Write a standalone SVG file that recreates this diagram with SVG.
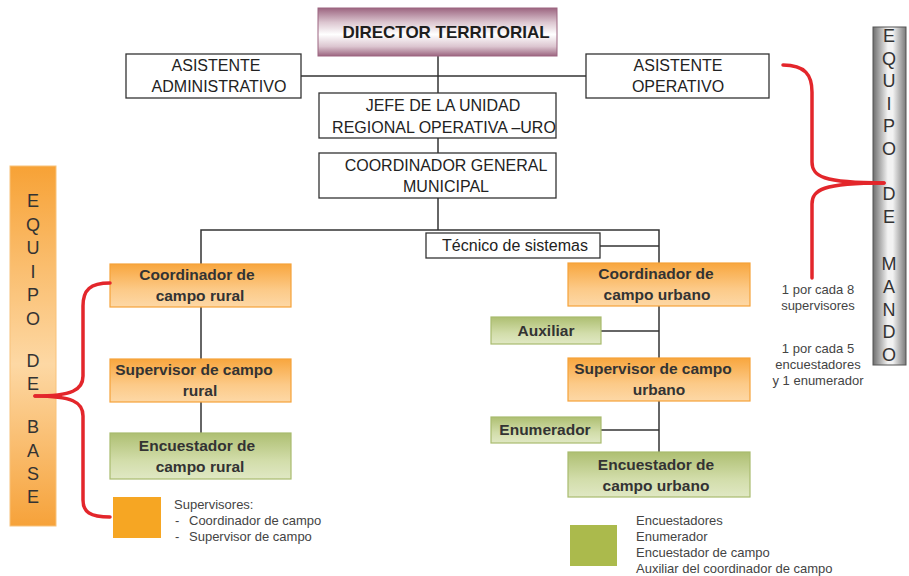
<svg xmlns="http://www.w3.org/2000/svg" width="909" height="576" viewBox="0 0 909 576">
<defs>
<linearGradient id="gDir" x1="0" y1="0" x2="0" y2="1">
<stop offset="0" stop-color="#9c6580"/><stop offset="0.3" stop-color="#dcc6d0"/><stop offset="0.55" stop-color="#ffffff"/><stop offset="0.8" stop-color="#dcc6d0"/><stop offset="1" stop-color="#9c6580"/>
</linearGradient>
<linearGradient id="gOr" x1="0" y1="0" x2="0" y2="1">
<stop offset="0" stop-color="#f8a63e"/><stop offset="0.6" stop-color="#fcca88"/><stop offset="1" stop-color="#fdd8a6"/>
</linearGradient>
<linearGradient id="gGr" x1="0" y1="0" x2="0" y2="1">
<stop offset="0" stop-color="#aebf72"/><stop offset="0.6" stop-color="#d2ddaa"/><stop offset="1" stop-color="#e0e8c4"/>
</linearGradient>
<linearGradient id="gBarO" x1="0" y1="0" x2="0" y2="1">
<stop offset="0" stop-color="#f7a236"/><stop offset="0.55" stop-color="#fdd8a4"/><stop offset="1" stop-color="#f6a23a"/>
</linearGradient>
<linearGradient id="gBarG" x1="0" y1="0" x2="1" y2="0">
<stop offset="0" stop-color="#6e6e6e"/><stop offset="0.45" stop-color="#f2f2f2"/><stop offset="0.6" stop-color="#f2f2f2"/><stop offset="1" stop-color="#7a7a7a"/>
</linearGradient>
</defs>
<style>
.wb{fill:#fff;stroke:#333;stroke-width:1.3}
.ob{fill:url(#gOr);stroke:#f5a23a;stroke-width:1.2}
.gb{fill:url(#gGr);stroke:#a8bb6e;stroke-width:1.2}
.t{font-family:"Liberation Sans",Arial,sans-serif;font-size:16px;fill:#222;text-anchor:middle}
.tb{font-family:"Liberation Sans",Arial,sans-serif;font-size:15.5px;font-weight:bold;fill:#333;text-anchor:middle}
.side{font-family:"Liberation Sans",Arial,sans-serif;font-size:18px;fill:#333;text-anchor:middle}
.lg{font-family:"Liberation Sans",Arial,sans-serif;font-size:13px;fill:#444}
.note{font-family:"Liberation Sans",Arial,sans-serif;font-size:13px;fill:#444;text-anchor:middle}
.ln{stroke:#333;stroke-width:1.5;fill:none}
.br{stroke:#e3262b;stroke-width:3.5;fill:none;stroke-linecap:round}
</style>

<g id="connectors">
<line class="ln" x1="438" y1="56" x2="438" y2="93"/>
<line class="ln" x1="301" y1="76" x2="586" y2="76"/>
<line class="ln" x1="438" y1="138" x2="438" y2="153"/>
<line class="ln" x1="438" y1="198" x2="438" y2="230"/>
<polyline class="ln" points="201,264 201,230 659,230 659,263"/>
<line class="ln" x1="600" y1="246" x2="659" y2="246"/>
<line class="ln" x1="201" y1="307" x2="201" y2="359"/>
<line class="ln" x1="201" y1="402" x2="201" y2="433"/>
<line class="ln" x1="659" y1="306" x2="659" y2="452"/>
<line class="ln" x1="601" y1="331" x2="659" y2="331"/>
<line class="ln" x1="601" y1="430" x2="659" y2="430"/>
</g>

<g id="director">
<rect x="318" y="8" width="239" height="48" fill="url(#gDir)" stroke="#9c6580" stroke-width="1"/>
<text x="446" y="38" class="tb" style="font-size:17px;fill:#1e1e1e">DIRECTOR TERRITORIAL</text>
</g>
<g id="asistente-admin">
<rect class="wb" x="126" y="54" width="175" height="44"/>
<text class="t" x="216" y="71">ASISTENTE</text>
<text class="t" x="219" y="92">ADMINISTRATIVO</text>
</g>
<g id="asistente-oper">
<rect class="wb" x="586" y="54" width="183" height="44"/>
<text class="t" x="678" y="71">ASISTENTE</text>
<text class="t" x="678" y="92">OPERATIVO</text>
</g>
<g id="jefe">
<rect class="wb" x="319" y="93" width="237" height="45"/>
<text class="t" x="443" y="111">JEFE DE LA UNIDAD</text>
<text class="t" x="444" y="133">REGIONAL OPERATIVA –URO</text>
</g>
<g id="coord-general">
<rect class="wb" x="319" y="153" width="237" height="45"/>
<text class="t" x="446" y="171">COORDINADOR GENERAL</text>
<text class="t" x="446" y="192">MUNICIPAL</text>
</g>
<g id="tecnico">
<rect class="wb" x="426" y="233" width="174" height="25"/>
<text class="t" x="515" y="251">Técnico de sistemas</text>
</g>

<g id="coord-rural">
<rect class="ob" x="110" y="264" width="181" height="43"/>
<text class="tb" x="197" y="280">Coordinador de</text>
<text class="tb" x="200" y="301">campo rural</text>
</g>
<g id="sup-rural">
<rect class="ob" x="110" y="359" width="181" height="43"/>
<text class="tb" x="194" y="375">Supervisor de campo</text>
<text class="tb" x="200" y="396">rural</text>
</g>
<g id="enc-rural">
<rect class="gb" x="110" y="433" width="181" height="46"/>
<text class="tb" x="197" y="451">Encuestador de</text>
<text class="tb" x="200" y="472">campo rural</text>
</g>

<g id="coord-urbano">
<rect class="ob" x="568" y="263" width="182" height="43"/>
<text class="tb" x="656" y="279">Coordinador de</text>
<text class="tb" x="657" y="300">campo urbano</text>
</g>
<g id="auxiliar">
<rect class="gb" x="491" y="317" width="110" height="27"/>
<text class="tb" x="546" y="336">Auxiliar</text>
</g>
<g id="sup-urbano">
<rect class="ob" x="568" y="358" width="182" height="43"/>
<text class="tb" x="653" y="374">Supervisor de campo</text>
<text class="tb" x="659" y="395">urbano</text>
</g>
<g id="enumerador">
<rect class="gb" x="491" y="417" width="110" height="26"/>
<text class="tb" x="545" y="435">Enumerador</text>
</g>
<g id="enc-urbano">
<rect class="gb" x="568" y="452" width="182" height="45"/>
<text class="tb" x="656" y="470">Encuestador de</text>
<text class="tb" x="656" y="491">campo urbano</text>
</g>

<g id="equipo-base">
<rect x="10" y="166" width="46" height="360" fill="url(#gBarO)" stroke="#f8c27a" stroke-width="1"/>
<text class="side" x="33" y="207">E</text>
<text class="side" x="33" y="231">Q</text>
<text class="side" x="33" y="254">U</text>
<text class="side" x="33" y="278">I</text>
<text class="side" x="33" y="301">P</text>
<text class="side" x="33" y="325">O</text>
<text class="side" x="33" y="367">D</text>
<text class="side" x="33" y="390">E</text>
<text class="side" x="33" y="433">B</text>
<text class="side" x="33" y="457">A</text>
<text class="side" x="33" y="480">S</text>
<text class="side" x="33" y="503">E</text>
</g>

<g id="equipo-mando">
<rect x="873" y="27" width="33" height="338" fill="url(#gBarG)" stroke="#555" stroke-width="1"/>
<text class="side" x="889" y="42">E</text>
<text class="side" x="889" y="65">Q</text>
<text class="side" x="889" y="87">U</text>
<text class="side" x="889" y="110">I</text>
<text class="side" x="889" y="132">P</text>
<text class="side" x="889" y="155">O</text>
<text class="side" x="889" y="200">D</text>
<text class="side" x="889" y="223">E</text>
<text class="side" x="889" y="270">M</text>
<text class="side" x="889" y="293">A</text>
<text class="side" x="889" y="316">N</text>
<text class="side" x="889" y="338">D</text>
<text class="side" x="889" y="361">O</text>
</g>

<g id="braces">
<path class="br" d="M110,283 C90,283 83,290 83,306 L83,376 C83,390 72,396 35,396"/>
<path class="br" d="M35,396 C72,396 83,402 83,416 L83,500 C83,512 90,517 110,517"/>
<path class="br" d="M783,65 C805,65 812,75 812,92 L812,162 C812,176 822,183 884,183"/>
<path class="br" d="M884,183 C822,183 812,190 812,204 L812,278"/>
</g>

<g id="notes">
<text class="note" x="818" y="294">1 por cada 8</text>
<text class="note" x="818" y="310">supervisores</text>
<text class="note" x="818" y="353">1 por cada 5</text>
<text class="note" x="818" y="369">encuestadores</text>
<text class="note" x="818" y="385">y 1 enumerador</text>
</g>

<g id="legend-supervisores">
<rect x="113" y="497" width="48" height="41" fill="#f6a623"/>
<text class="lg" x="174" y="509">Supervisores:</text>
<text class="lg" x="175" y="525">-</text>
<text class="lg" x="189" y="525">Coordinador de campo</text>
<text class="lg" x="175" y="541">-</text>
<text class="lg" x="189" y="541">Supervisor de campo</text>
</g>
<g id="legend-encuestadores">
<rect x="570" y="525" width="47" height="41" fill="#abba4c"/>
<text class="lg" x="636" y="525">Encuestadores</text>
<text class="lg" x="636" y="541">Enumerador</text>
<text class="lg" x="636" y="557">Encuestador de campo</text>
<text class="lg" x="636" y="573">Auxiliar del coordinador de campo</text>
</g>
</svg>
